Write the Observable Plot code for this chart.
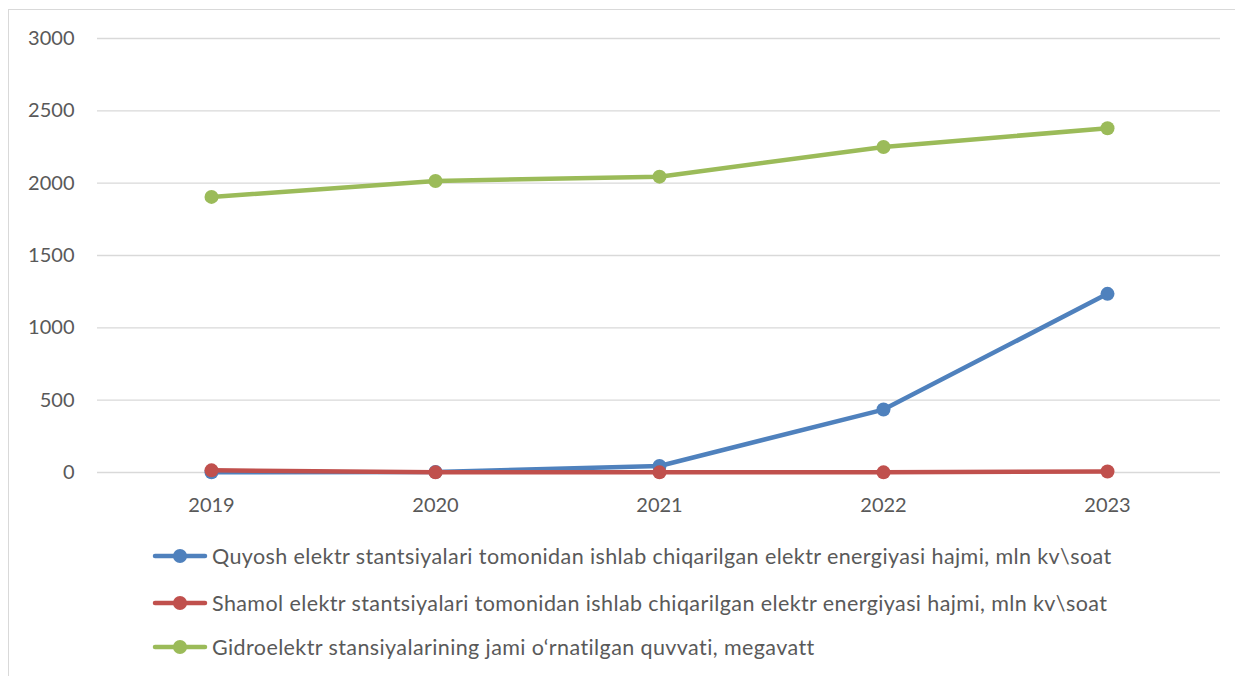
<!DOCTYPE html>
<html><head><meta charset="utf-8">
<script src="https://cdn.jsdelivr.net/npm/d3@7"></script>
<script src="https://cdn.jsdelivr.net/npm/@observablehq/plot@0.6"></script>
<style>
body{margin:0;background:#fff;font-family:Lato,"Open Sans",sans-serif;overflow:hidden;}
#frame{position:absolute;left:8px;top:9px;width:1300px;height:700px;border:1.5px solid #d9d9d9;box-sizing:border-box;}
#chart{position:absolute;left:0;top:0;}
.row{position:absolute;left:152px;height:26px;display:flex;align-items:center;font-size:21.5px;letter-spacing:0.4px;color:#595959;white-space:nowrap;}
.row svg{margin-right:4px;}
</style></head>
<body>
<div id="frame"></div>
<div id="chart"></div>
<div id="legend"></div>
<script>
const years = ["2019","2020","2021","2022","2023"];
const solar = [2, 3, 45, 435, 1235];
const wind = [15, 1, 1, 1, 7];
const hydro = [1905, 2015, 2045, 2250, 2380];
const seriesNames = [
  "Quyosh elektr stantsiyalari tomonidan ishlab chiqarilgan elektr energiyasi hajmi, mln kv\\soat",
  "Shamol elektr stantsiyalari tomonidan ishlab chiqarilgan elektr energiyasi hajmi, mln kv\\soat",
  "Gidroelektr stansiyalarining jami o‘rnatilgan quvvati, megavatt"
];
const colors = ["#4f81bd", "#c0504d", "#9bbb59"];
const yTicks = [0, 500, 1000, 1500, 2000, 2500, 3000];

const seriesValues = [solar, wind, hydro];
const data = [];
seriesValues.forEach((vals, si) => vals.forEach((v, i) => data.push({year: years[i], value: v, series: seriesNames[si]})));

const marks = [
  Plot.ruleY(yTicks, {stroke: "#d9d9d9", strokeWidth: 1.3})
];
seriesNames.forEach((name, si) => {
  const d = data.filter(r => r.series === name);
  marks.push(Plot.line(d, {x: "year", y: "value", stroke: colors[si], strokeWidth: 4.5, strokeLinejoin: "round", strokeLinecap: "round"}));
  marks.push(Plot.dot(d, {x: "year", y: "value", fill: colors[si], r: 7}));
});

const chart = Plot.plot({
  width: 1235,
  height: 530,
  marginLeft: 97,
  marginRight: 15,
  marginTop: 38,
  marginBottom: 58,
  style: {fontFamily: "Lato, sans-serif", fontSize: "20px", color: "#595959", background: "transparent"},
  x: {type: "point", domain: years, padding: 0.5, label: null, tickSize: 0, tickPadding: 25},
  y: {domain: [0, 3000], ticks: yTicks, tickFormat: d => String(d), label: null, tickSize: 0, tickPadding: 23},
  marks
});
document.getElementById("chart").appendChild(chart);

const legend = document.getElementById("legend");
const rowCenters = [556, 603, 647];
seriesNames.forEach((name, si) => {
  const row = document.createElement("div");
  row.className = "row";
  row.style.top = (rowCenters[si] - 13) + "px";
  row.innerHTML = `<svg width="56" height="16"><line x1="3" y1="8" x2="53" y2="8" stroke="${colors[si]}" stroke-width="4.5" stroke-linecap="round"/><circle cx="28" cy="8" r="7" fill="${colors[si]}"/></svg>`;
  const span = document.createElement("span");
  span.textContent = name;
  row.appendChild(span);
  legend.appendChild(row);
});
</script>
</body></html>
